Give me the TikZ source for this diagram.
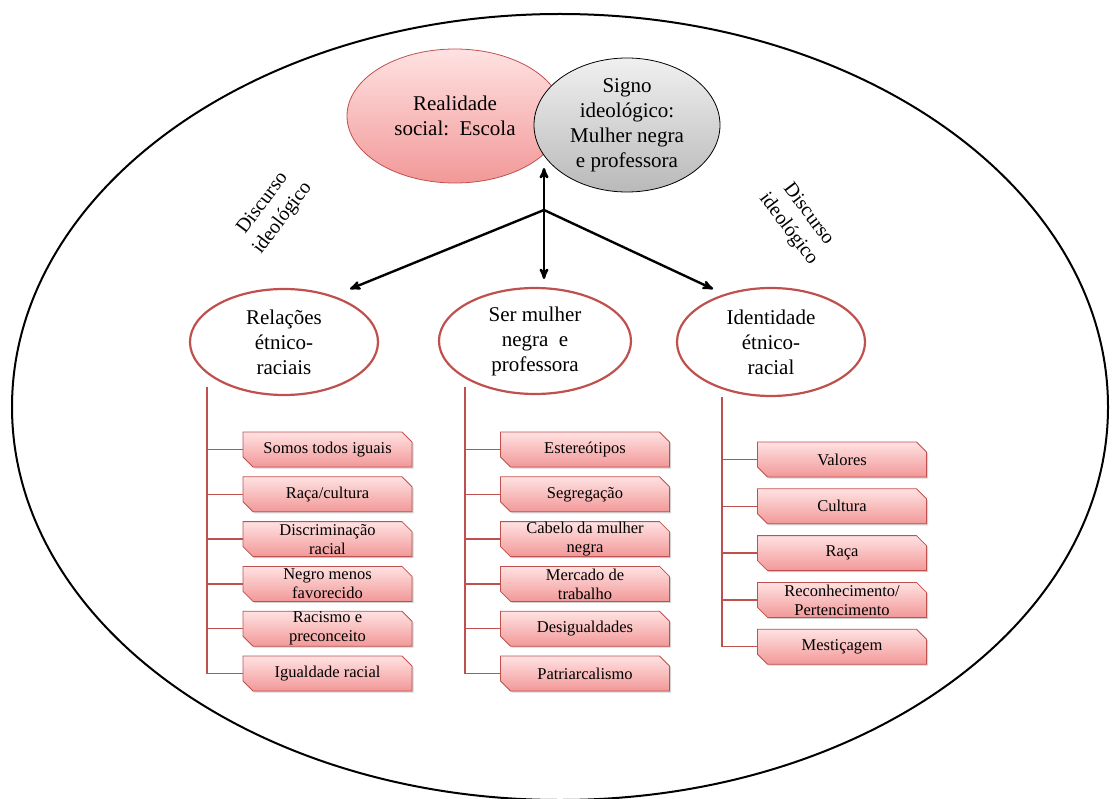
\documentclass[tikz,border=0pt]{standalone}
\usepackage{fontspec}
\setmainfont{Liberation Serif}
\usepackage{tikz}
\usetikzlibrary{arrows}
\usetikzlibrary{positioning}
\usetikzlibrary{shapes.geometric,shapes.misc,shadows}
\definecolor{redline}{RGB}{192,80,77}
\definecolor{pinktop}{RGB}{255,226,226}
\definecolor{pinkbot}{RGB}{242,152,152}
\definecolor{graytop}{RGB}{240,240,240}
\definecolor{graybot}{RGB}{185,185,185}

\begin{document}
\begin{tikzpicture}[x=1pt,y=-1pt,>=stealth',
    top node/.style={ellipse,inner sep=0pt,align=center,line width=0.8pt,
      font=\fontsize{21}{25}\selectfont},
    theme node/.style={ellipse,draw=redline,line width=2.2pt,fill=white,
      inner sep=0pt,align=center,minimum height=106pt,
      font=\fontsize{21}{25}\selectfont},
    item box/.style={chamfered rectangle,chamfered rectangle corners={north east,south west},
      chamfered rectangle xsep=5pt,chamfered rectangle ysep=5pt,
      draw=redline,line width=0.8pt,top color=pinktop,bottom color=pinkbot,
      drop shadow={shadow xshift=1.5pt,shadow yshift=-1.5pt,opacity=0.35},
      minimum width=169pt,minimum height=35pt,inner sep=0pt,
      font=\fontsize{16.5}{19}\selectfont,
      execute at begin node={\begin{minipage}[c][20pt][c]{158pt}\centering},
      execute at end node={\end{minipage}}},
    tree line/.style={draw=redline,line width=1.4pt},
    main arrow/.style={line width=2.4pt,black},
    speech/.style={align=center,font=\fontsize{20}{25}\selectfont}]

  \useasboundingbox (0,0) rectangle (1113,799);

  % moldura
  \node[ellipse,draw,line width=2pt,minimum width=1096pt,minimum height=786pt] (frame) at (560,407) {};

  % signos do topo
  \node[top node,draw=redline,top color=pinktop,bottom color=pinkbot,
        minimum width=216pt,minimum height=134pt] (escola) at (455,116) {Realidade\\social:~~Escola};
  \node[top node,draw=black,top color=graytop,bottom color=graybot,
        minimum width=186pt,minimum height=134pt] (signo) at (627,125) {Signo\\ideológico:\\Mulher negra\\e professora};

  \node[speech,rotate=53] (discL) at (273,211) {Discurso\\ideológico};
  \node[speech,rotate=-53] (discR) at (798,222) {Discurso\\ideológico};

  % setas
  \coordinate (hub) at (544,210);
  \coordinate (upTip) at (544,168);
  \coordinate (downTip) at (544,279);
  \coordinate (leftTip) at (350,289);
  \coordinate (rightTip) at (713,289);
  \draw[main arrow,<->] (upTip) -- (downTip);
  \draw[main arrow,->] (hub) -- (leftTip);
  \draw[main arrow,->] (hub) -- (rightTip);

  % temas
  \node[theme node,minimum width=188pt] (relacoes) at (284,342) {Relações\\étnico-\\raciais};
  \node[theme node,minimum width=192pt] (mulher) at (535,341) {Ser mulher\\negra~~e\\professora};
  \node[theme node,minimum width=188pt,minimum height=108pt] (identidade) at (771,342) {Identidade\\étnico-\\racial};

  % relacoes etnico-raciais
  \node[item box] (r1) at (327.5,449.5) {Somos todos iguais};
  \node[item box,below=9pt of r1] (r2) {Raça/cultura};
  \node[item box,below=9pt of r2] (r3) {Discriminação\\racial};
  \node[item box,below=9pt of r3] (r4) {Negro menos\\favorecido};
  \node[item box,below=9pt of r4] (r5) {Racismo e\\preconceito};
  \node[item box,below=9pt of r5] (r6) {Igualdade racial};

  % ser mulher negra e professora
  \node[item box] (m1) at (585,449.5) {Estereótipos};
  \node[item box,below=9pt of m1] (m2) {Segregação};
  \node[item box,below=9pt of m2] (m3) {Cabelo da mulher\\negra};
  \node[item box,below=9pt of m3] (m4) {Mercado de\\trabalho};
  \node[item box,below=9pt of m4] (m5) {Desigualdades};
  \node[item box,below=9pt of m5] (m6) {Patriarcalismo};

  % identidade etnico-racial
  \node[item box] (i1) at (842,459.5) {Valores};
  \node[item box,below=11pt of i1] (i2) {Cultura};
  \node[item box,below=11pt of i2] (i3) {Raça};
  \node[item box,below=11pt of i3] (i4) {Reconhecimento/\\Pertencimento};
  \node[item box,below=11pt of i4] (i5) {Mestiçagem};

  % ramos
  \coordinate (trunkR) at (207,387);
  \coordinate (trunkM) at (465,387);
  \coordinate (trunkI) at (722,397);
  \draw[tree line] (trunkR) -- (trunkR |- r6.west);
  \draw[tree line] (trunkM) -- (trunkM |- m6.west);
  \draw[tree line] (trunkI) -- (trunkI |- i5.west);
  \path[tree line]
    (trunkR |- r1.west) edge (r1.west)
    (trunkR |- r2.west) edge (r2.west)
    (trunkR |- r3.west) edge (r3.west)
    (trunkR |- r4.west) edge (r4.west)
    (trunkR |- r5.west) edge (r5.west)
    (trunkR |- r6.west) edge (r6.west)
    (trunkM |- m1.west) edge (m1.west)
    (trunkM |- m2.west) edge (m2.west)
    (trunkM |- m3.west) edge (m3.west)
    (trunkM |- m4.west) edge (m4.west)
    (trunkM |- m5.west) edge (m5.west)
    (trunkM |- m6.west) edge (m6.west)
    (trunkI |- i1.west) edge (i1.west)
    (trunkI |- i2.west) edge (i2.west)
    (trunkI |- i3.west) edge (i3.west)
    (trunkI |- i4.west) edge (i4.west)
    (trunkI |- i5.west) edge (i5.west);
\end{tikzpicture}
\end{document}
